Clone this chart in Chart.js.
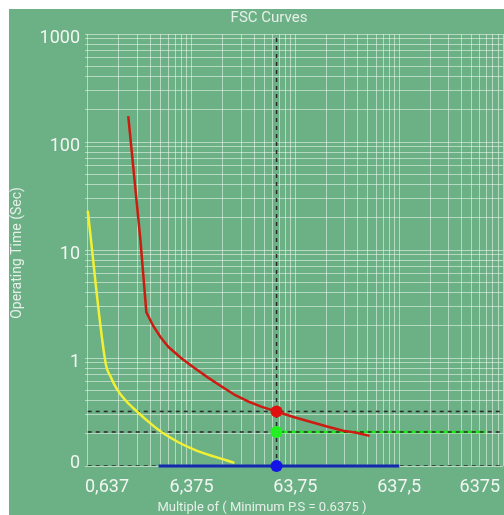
<!DOCTYPE html>
<html>
<head>
<meta charset="utf-8">
<title>FSC Curves</title>
<script src="https://cdn.jsdelivr.net/npm/chart.js@4.4.0/dist/chart.umd.min.js"></script>
<style>
  html, body { margin: 0; padding: 0; background: #fff; overflow: hidden; width: 504px; height: 515px; }
  #wrap { position: absolute; left: 9px; top: 9px; width: 500px; height: 506px; background: #6cb086; }
</style>
</head>
<body>
<div id="wrap"><canvas id="fsc" width="500" height="506"></canvas></div>
<script>
// axis ticks (multiples of minimum pick-up setting 0.6375)
const xTickValues = [0.6375, 6.375, 63.75, 637.5, 6375];
const xTickLabels = ['0,637', '6,375', '63,75', '637,5', '6375'];
const yTickValues = [0.1, 1, 10, 100, 1000];
const yTickLabels = ['0', '1', '10', '100', '1000'];

// curves
const yellowX = [0.6375, 0.952, 1.06, 1.23, 1.477, 1.91, 2.56, 3.30, 4.76, 6.85, 10.6, 16.5];
const yellowY = [23.1, 0.875, 0.671, 0.506, 0.404, 0.318, 0.248, 0.205, 0.166, 0.141, 0.122, 0.107];
const redX = [1.566, 2.05, 2.34, 2.71, 3.18, 3.82, 5.12, 6.85, 9.19, 12.3, 16.4, 22.1, 30.3, 42.0, 61.0, 88.6, 128.6, 184, 247, 330];
const redY = [174, 12.4, 2.65, 2.0, 1.575, 1.264, 0.99, 0.803, 0.658, 0.547, 0.459, 0.398, 0.353, 0.32, 0.284, 0.257, 0.232, 0.212, 0.203, 0.19];
const greenX = [42.0, 4300];
const greenY = [0.2065, 0.2065];
const blueX = [3.07, 637.5];
const blueY = [0.1, 0.1];

// operating point and its limit lines
const opX = 42.0;
const opRed = 0.32, opGreen = 0.2065, opBlue = 0.1;
const limitLevels = [opRed, opGreen, opBlue];

function pts(xs, ys){ return xs.map((x, i) => ({x, y: ys[i]})); }
function ticksFor(first, decades){
  const out = [];
  for (let d = 0; d < decades; d++) for (let k = 1; k <= 9; k++) out.push({value: first * Math.pow(10, d) * k});
  out.push({value: first * Math.pow(10, decades)});
  return out;
}

const DASH = '#2a2a2a';
const datasets = [
  // dots on top
  {data: [{x: opX, y: opRed}], pointRadius: 6, pointBackgroundColor: '#e01010', pointBorderWidth: 0, showLine: false, clip: false, order: 0},
  {data: [{x: opX, y: opGreen}], pointRadius: 6, pointBackgroundColor: '#22f022', pointBorderWidth: 0, showLine: false, clip: false, order: 0},
  {data: [{x: opX, y: opBlue}], pointRadius: 6, pointBackgroundColor: '#1414e6', pointBorderWidth: 0, showLine: false, clip: false, order: 0},
  {data: pts(blueX, blueY), borderColor: '#1428b0', borderWidth: 3, pointRadius: 0, clip: false, order: 1},
  {data: pts(redX, redY), borderColor: '#cc1c12', borderWidth: 2.5, pointRadius: 0, borderJoinStyle: 'round', order: 2},
  {data: pts(yellowX, yellowY), borderColor: '#f2f035', borderWidth: 2.5, pointRadius: 0, cubicInterpolationMode: 'monotone', order: 3},
];
limitLevels.forEach(v => datasets.push({
  data: [{x: xTickValues[0], y: v}, {x: xTickValues[xTickValues.length - 1], y: v}],
  borderColor: DASH, borderWidth: 1.5, borderDash: [4, 4], pointRadius: 0, order: 4
}));
datasets.push({
  data: [{x: opX, y: yTickValues[0]}, {x: opX, y: yTickValues[yTickValues.length - 1]}],
  borderColor: DASH, borderWidth: 1.5, borderDash: [4, 4], pointRadius: 0, order: 4
});
datasets.push({data: pts(greenX, greenY), borderColor: '#22e822', borderWidth: 2.5, pointRadius: 0, order: 5});

const textPlugin = {
  id: 'fscText',
  afterDraw(chart){
    const {ctx, chartArea, scales} = chart;
    ctx.save();
    ctx.fillStyle = '#f2f6f2';
    ctx.font = '18px Roboto';
    ctx.textBaseline = 'middle';
    ctx.textAlign = 'center';
    xTickValues.forEach((v, i) => {
      const w = ctx.measureText(xTickLabels[i]).width;
      let px = scales.x.getPixelForValue(v);
      px = Math.max(chartArea.left + w / 2, Math.min(chartArea.right - 3 - w / 2, px));
      ctx.fillText(xTickLabels[i], px, chartArea.bottom + 21);
    });
    ctx.textAlign = 'right';
    yTickValues.forEach((v, i) => {
      const py = Math.min(scales.y.getPixelForValue(v) + 4, chartArea.bottom - 3);
      ctx.fillText(yTickLabels[i], chartArea.left - 5, py);
    });
    ctx.fillStyle = '#e6efe8';
    ctx.textAlign = 'center';
    ctx.font = '15px Roboto';
    ctx.fillText('FSC Curves', 260, 9);
    ctx.font = '13px Roboto';
    ctx.fillText('Multiple of ( Minimum P.S = 0.6375 )', 253, 499);
    ctx.font = '14px Roboto';
    ctx.translate(8, 244);
    ctx.rotate(-Math.PI / 2);
    ctx.fillText('Operating Time (Sec)', 0, 0);
    ctx.restore();
  }
};

const gridColor = 'rgba(240,250,240,0.55)';
new Chart(document.getElementById('fsc'), {
  type: 'line',
  data: {datasets},
  options: {
    responsive: false,
    animation: false,
    events: [],
    layout: {padding: {left: 76, top: 25, right: 4, bottom: 49}},
    plugins: {legend: {display: false}, tooltip: {enabled: false}},
    scales: {
      x: {
        type: 'logarithmic', min: xTickValues[0], max: xTickValues[xTickValues.length - 1],
        afterBuildTicks: s => { s.ticks = ticksFor(xTickValues[0], 4); },
        ticks: {display: false},
        grid: {color: gridColor, lineWidth: 1, drawTicks: false},
        border: {display: false}
      },
      y: {
        type: 'logarithmic', min: yTickValues[0], max: yTickValues[yTickValues.length - 1],
        afterBuildTicks: s => { s.ticks = ticksFor(yTickValues[0], 4); },
        ticks: {display: false},
        grid: {color: gridColor, lineWidth: 1, drawTicks: false},
        border: {display: false}
      }
    }
  },
  plugins: [textPlugin]
});
</script>
</body>
</html>
